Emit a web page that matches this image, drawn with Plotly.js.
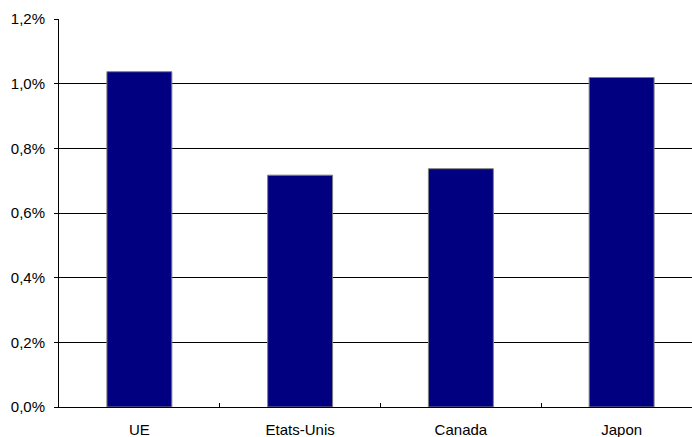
<!DOCTYPE html>
<html>
<head>
<meta charset="utf-8">
<script src="https://cdn.plot.ly/plotly-3.0.1.min.js"></script>
<style>
html,body{margin:0;padding:0;overflow:hidden;background:#fff;}
#chart{width:710px;height:437px;}
</style>
</head>
<body>
<div id="chart"></div>
<script>
var categories = ["UE", "Etats-Unis", "Canada", "Japon"];
var values = [0.01037, 0.00717, 0.00737, 0.01019];
var yTickVals = [0, 0.002, 0.004, 0.006, 0.008, 0.010, 0.012];
var yTickText = ["0,0%", "0,2%", "0,4%", "0,6%", "0,8%", "1,0%", "1,2%"];

var trace = {
  type: "bar",
  x: categories,
  y: values,
  marker: {color: "#000080", line: {color: "#808080", width: 1}},
  hoverinfo: "none"
};

var layout = {
  width: 710,
  height: 437,
  margin: {l: 59, r: 8, t: 19, b: 30},
  paper_bgcolor: "#ffffff",
  plot_bgcolor: "#ffffff",
  showlegend: false,
  bargap: 0.596,
  font: {family: "Liberation Sans, Arial, sans-serif", size: 15, color: "#000000"},
  xaxis: {
    type: "category",
    showline: true,
    linecolor: "#000000",
    linewidth: 1,
    ticks: "inside",
    tickson: "boundaries",
    ticklen: 4,
    tickcolor: "#000000",
    showgrid: false,
    zeroline: false,
    ticklabelstandoff: 9,
    tickfont: {size: 15, color: "#000000"}
  },
  yaxis: {
    range: [0, 0.012],
    tickvals: yTickVals,
    ticktext: yTickText,
    showline: true,
    linecolor: "#000000",
    linewidth: 1,
    ticks: "outside",
    ticklen: 4,
    tickcolor: "#000000",
    showgrid: true,
    gridcolor: "#000000",
    gridwidth: 1,
    zeroline: false,
    ticklabelstandoff: 6,
    tickfont: {size: 15, color: "#000000"}
  }
};

Plotly.newPlot("chart", [trace], layout, {staticPlot: true, displayModeBar: false});
</script>
</body>
</html>
